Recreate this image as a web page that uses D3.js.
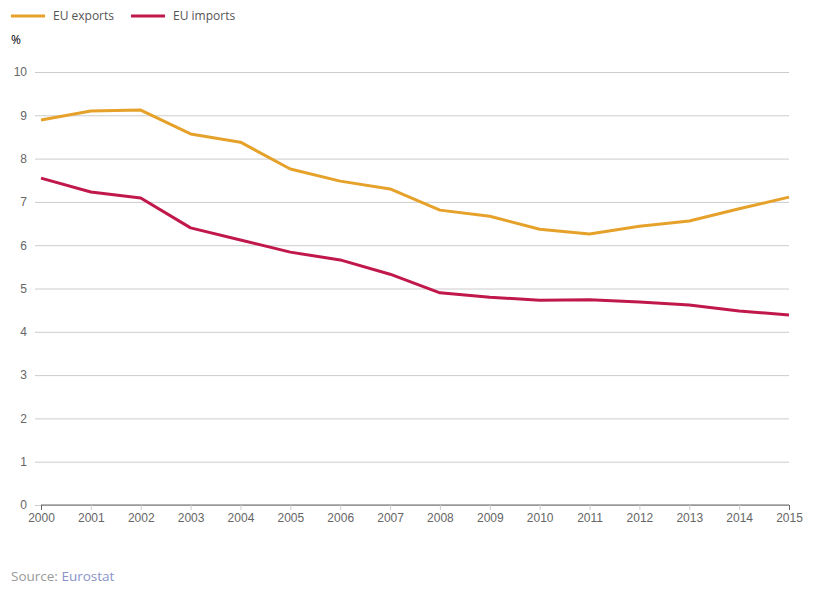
<!DOCTYPE html>
<html>
<head>
<meta charset="utf-8">
<script src="https://cdn.jsdelivr.net/npm/d3@7"></script>
<style>
  body { margin: 0; background: #fff; font-family: "Open Sans", sans-serif; overflow: hidden; }
  svg { display: block; }
</style>
</head>
<body>
<svg id="chart"></svg>
<script>
const years = [2000, 2001, 2002, 2003, 2004, 2005, 2006, 2007, 2008, 2009, 2010, 2011, 2012, 2013, 2014, 2015]
const exportsPct = [8.89, 9.10, 9.12, 8.57, 8.38, 7.76, 7.48, 7.30, 6.81, 6.67, 6.37, 6.26, 6.44, 6.56, 6.84, 7.11]
const importsPct = [7.55, 7.23, 7.09, 6.40, 6.12, 5.84, 5.66, 5.33, 4.90, 4.80, 4.73, 4.74, 4.69, 4.62, 4.48, 4.39]
const yTicks = [0, 1, 2, 3, 4, 5, 6, 7, 8, 9, 10]
const seriesNames = ['EU exports', 'EU imports']
const seriesColors = ['#e6a12a', '#c0184a']

const size = {width: 814, height: 591}
const margin = {top: 72, right: 25, bottom: 86, left: 41}
const innerWidth = size.width - margin.left - margin.right
const innerHeight = size.height - margin.top - margin.bottom

const svg = d3.select('#chart')
    .attr('width', size.width)
    .attr('height', size.height)

const xScale = d3.scaleLinear()
    .domain([2000, 2015])
    .range([0, innerWidth])

const yScale = d3.scaleLinear()
    .domain([0, 10])
    .range([innerHeight, 0])

const g = svg.append('g')
    .attr('transform', `translate(${margin.left}, ${margin.top})`)

// grid + y labels
const yAxis = d3.axisLeft(yScale)
    .tickValues(yTicks)
    .tickSize(-innerWidth - 6)
    .tickPadding(4)
    .tickFormat(d3.format('d'))
const yAxisG = g.append('g')
    .attr('transform', 'translate(-6,0)')
    .call(yAxis)
yAxisG.select('.domain').remove()
yAxisG.selectAll('.tick line').attr('stroke', '#cccccc')
yAxisG.selectAll('.tick text')
    .attr('fill', '#666')
    .attr('font-size', 12)
    .attr('x', -8)

// x axis
const xAxis = d3.axisBottom(xScale)
    .tickValues(years)
    .tickSize(5)
    .tickPadding(3)
    .tickFormat(d3.format('d'))
const xAxisG = g.append('g')
    .attr('transform', `translate(0, ${innerHeight})`)
    .call(xAxis)
xAxisG.select('.domain').attr('stroke', '#666').attr('d', `M0,0H${innerWidth}`)
xAxisG.selectAll('.tick line').attr('stroke', '#ccc')
xAxisG.selectAll('.tick line').filter(d => d === 2000 || d === 2015)
    .attr('stroke', '#666')
xAxisG.selectAll('.tick text')
    .attr('fill', '#666')
    .attr('font-size', 12)

// lines
const line = d3.line()
    .x((d, i) => xScale(years[i]))
    .y(d => yScale(d))

;[exportsPct, importsPct].forEach((series, i) => {
    g.append('path')
        .datum(series)
        .attr('d', line)
        .attr('fill', 'none')
        .attr('stroke', seriesColors[i])
        .attr('stroke-width', 3)
        .attr('stroke-linejoin', 'round')
})

// legend
const legend = svg.append('g')
seriesNames.forEach((name, i) => {
    const x0 = 11 + i * 120
    legend.append('line')
        .attr('x1', x0).attr('x2', x0 + 34)
        .attr('y1', 16).attr('y2', 16)
        .attr('stroke', seriesColors[i])
        .attr('stroke-width', 3)
    legend.append('text')
        .attr('x', x0 + 42).attr('y', 20)
        .attr('font-size', 12)
        .attr('fill', '#555')
        .text(name)
})

svg.append('text')
    .attr('x', 11).attr('y', 44)
    .attr('font-size', 12)
    .attr('fill', '#000')
    .text('%')

const src = svg.append('text')
    .attr('x', 11).attr('y', 581)
    .attr('font-size', 13.5)
    .attr('fill', '#999')
src.append('tspan').text('Source: ')
src.append('tspan').attr('fill', '#8a93c9').text('Eurostat')
</script>
</body>
</html>
